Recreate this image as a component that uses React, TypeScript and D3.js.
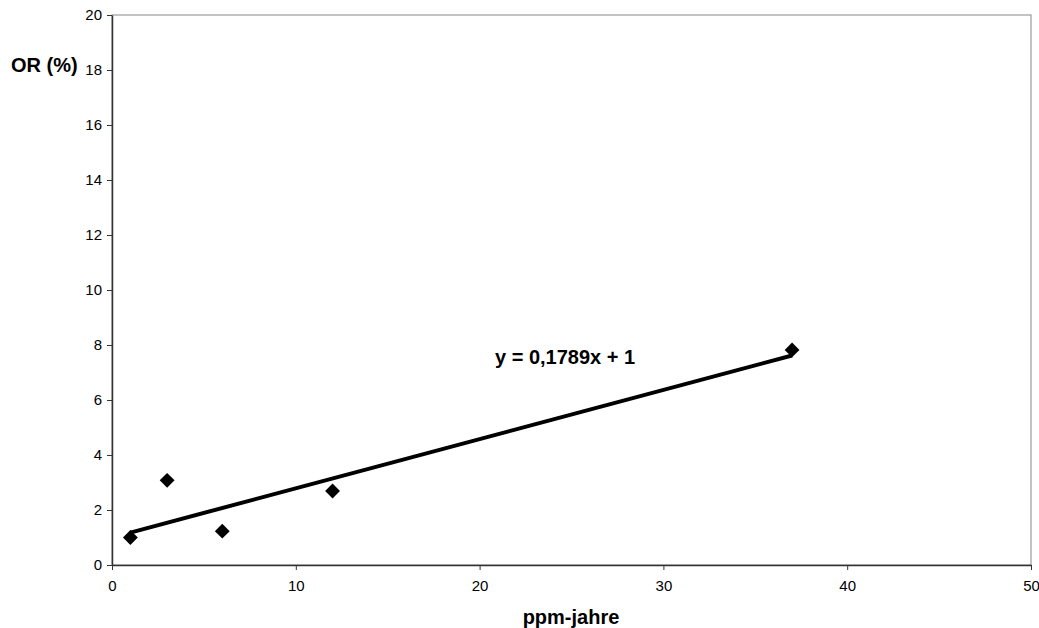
import React, { useEffect, useRef } from "react";
import * as d3 from "d3";

const xValues = [1, 3, 6, 12, 37];
const yValues = [1, 3.08, 1.23, 2.69, 7.82];
const trendSlope = 0.1789;
const trendIntercept = 1;
const xTicks = [0, 10, 20, 30, 40, 50];
const yTicks = [0, 2, 4, 6, 8, 10, 12, 14, 16, 18, 20];

const App = () => {
  const ref = useRef<SVGSVGElement>(null);

  useEffect(() => {
    const svg = d3.select(ref.current);
    svg.selectAll("*").remove();

    const width = 1039;
    const height = 628;
    const margin = { top: 15, right: 8, bottom: 63, left: 112 };
    const font = "Liberation Sans, Arial, sans-serif";

    const x = d3.scaleLinear().domain([0, 50]).range([margin.left, width - margin.right]);
    const y = d3.scaleLinear().domain([0, 20]).range([height - margin.bottom, margin.top]);

    // plot area border (top/right)
    svg
      .append("rect")
      .attr("x", x(0))
      .attr("y", y(20))
      .attr("width", x(50) - x(0))
      .attr("height", y(0) - y(20))
      .attr("fill", "none")
      .attr("stroke", "#888")
      .attr("stroke-width", 1);

    const xAxis = svg
      .append("g")
      .attr("transform", `translate(0,${y(0)})`)
      .call(d3.axisBottom(x).tickValues(xTicks).tickSize(5).tickSizeOuter(0).tickPadding(10));
    xAxis.select(".domain").attr("stroke", "#333").attr("stroke-width", 1.5);
    xAxis.selectAll("line").attr("stroke", "#333");
    xAxis.selectAll("text").style("font-family", font).style("font-size", "15px").attr("fill", "#000");

    const yAxis = svg
      .append("g")
      .attr("transform", `translate(${x(0)},0)`)
      .call(d3.axisLeft(y).tickValues(yTicks).tickSize(5).tickSizeOuter(0).tickPadding(5));
    yAxis.select(".domain").attr("stroke", "#333").attr("stroke-width", 1.5);
    yAxis.selectAll("line").attr("stroke", "#333");
    yAxis.selectAll("text").style("font-family", font).style("font-size", "15px").attr("fill", "#000");

    // trend line
    const xMin = d3.min(xValues) as number;
    const xMax = d3.max(xValues) as number;
    svg
      .append("line")
      .attr("x1", x(xMin))
      .attr("y1", y(trendSlope * xMin + trendIntercept))
      .attr("x2", x(xMax))
      .attr("y2", y(trendSlope * xMax + trendIntercept))
      .attr("stroke", "#000")
      .attr("stroke-width", 4);

    // markers
    const diamond = d3.symbol().type(d3.symbolDiamond2).size(140);
    svg
      .append("g")
      .selectAll("path")
      .data(xValues.map((v, i) => [v, yValues[i]]))
      .join("path")
      .attr("d", diamond)
      .attr("transform", (d) => `translate(${x(d[0])},${y(d[1])})`)
      .attr("fill", "#000");

    svg
      .append("text")
      .attr("x", 495)
      .attr("y", 364)
      .style("font-family", font)
      .style("font-size", "20px")
      .style("font-weight", "bold")
      .text("y = 0,1789x + 1");

    svg
      .append("text")
      .attr("x", 11)
      .attr("y", 72)
      .style("font-family", font)
      .style("font-size", "20px")
      .style("font-weight", "bold")
      .text("OR (%)");

    svg
      .append("text")
      .attr("x", 571)
      .attr("y", 624)
      .attr("text-anchor", "middle")
      .style("font-family", font)
      .style("font-size", "20px")
      .style("font-weight", "bold")
      .text("ppm-jahre");
  }, []);

  return <svg ref={ref} width={1039} height={628} style={{ position: "absolute", left: 0, top: 0 }} />;
};

export default App;
